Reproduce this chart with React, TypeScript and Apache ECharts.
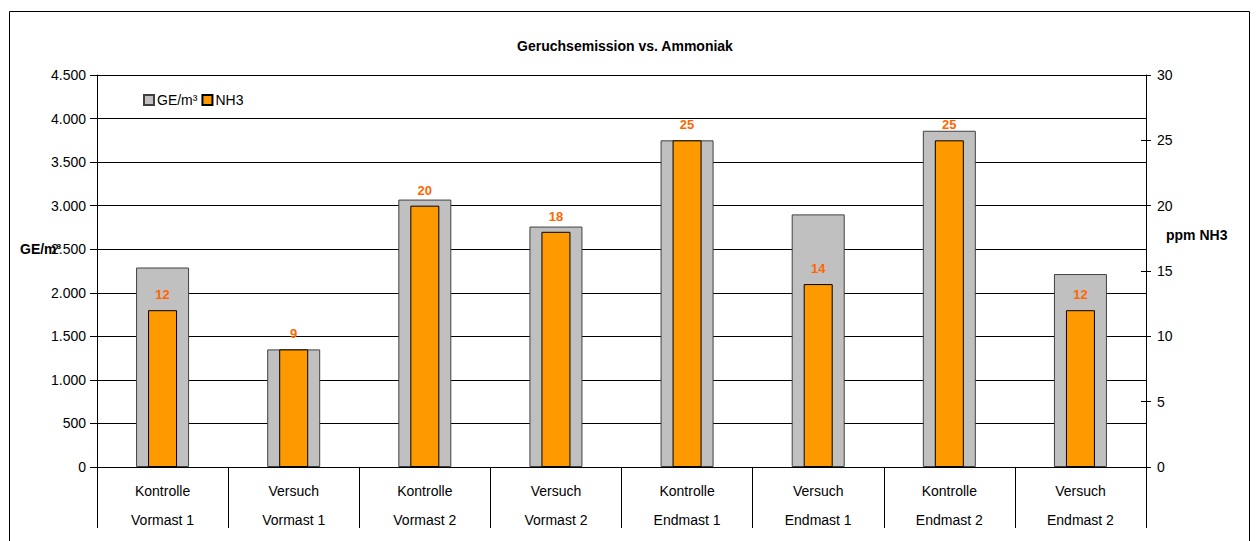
import React, { useEffect, useRef } from "react";
import * as echarts from "echarts";

const categories = [
  "Kontrolle\nVormast 1",
  "Versuch\nVormast 1",
  "Kontrolle\nVormast 2",
  "Versuch\nVormast 2",
  "Kontrolle\nEndmast 1",
  "Versuch\nEndmast 1",
  "Kontrolle\nEndmast 2",
  "Versuch\nEndmast 2",
];
const geValues = [2290, 1350, 3070, 2760, 3750, 2900, 3860, 2215];
const nh3Values = [12, 9, 20, 18, 25, 14, 25, 12];
const seriesNames = ["GE/m³", "NH3"];
const titleText = "Geruchsemission vs. Ammoniak";
const leftAxisName = "GE/m³";
const rightAxisName = "ppm NH3";

const FONT = "'Liberation Sans', Arial, sans-serif";

function fmtThousands(v: number): string {
  return String(v).replace(/\B(?=(\d{3})+(?!\d))/g, ".");
}

export default function App() {
  const ref = useRef<HTMLDivElement>(null);
  useEffect(() => {
    if (!ref.current) return;
    const chart = echarts.init(ref.current, null, { renderer: "svg" });
    chart.setOption({
      animation: false,
      backgroundColor: "#ffffff",
      textStyle: { fontFamily: FONT, color: "#000" },
      title: {
        text: titleText,
        left: 620,
        textAlign: "center",
        top: 34,
        textStyle: { fontFamily: FONT, fontSize: 14, fontWeight: "bold", color: "#000" },
      },
      legend: {
        data: seriesNames,
        left: 138,
        top: 88,
        itemWidth: 10,
        itemHeight: 10,
        itemGap: 4,
        icon: "rect",
        textStyle: { fontFamily: FONT, fontSize: 14, color: "#000", padding: [0, 0, 0, -2] },
      },
      graphic: [
        {
          type: "rect",
          shape: { x: 9.5, y: 11.5, width: 1240, height: 600 },
          style: { fill: "none", stroke: "#000", lineWidth: 1 },
          silent: true,
        },
        {
          type: "text",
          x: 20,
          y: 249,
          style: {
            text: leftAxisName,
            font: `bold 14px ${FONT}`,
            fill: "#000",
            textVerticalAlign: "middle",
          },
        },
        {
          type: "text",
          x: 1166,
          y: 235,
          style: {
            text: rightAxisName,
            font: `bold 14px ${FONT}`,
            fill: "#000",
            textVerticalAlign: "middle",
          },
        },
      ],
      grid: { left: 97, right: 111, top: 75, bottom: 74, containLabel: false },
      xAxis: [
        {
          type: "category",
          data: categories,
          boundaryGap: true,
          axisLine: { show: true, lineStyle: { color: "#000", width: 1 } },
          axisTick: { show: true, length: 61, interval: 0, lineStyle: { color: "#000" } },
          axisLabel: {
            interval: 0,
            fontFamily: FONT,
            fontSize: 14,
            color: "#000",
            lineHeight: 29,
            margin: 9,
          },
          splitLine: { show: false },
        },
        {
          type: "category",
          data: categories,
          show: false,
        },
      ],
      yAxis: [
        {
          type: "value",
          position: "left",
          min: 0,
          max: 4500,
          interval: 500,
          axisLine: { show: true, lineStyle: { color: "#000" } },
          axisTick: { show: true, length: 7, lineStyle: { color: "#000" } },
          axisLabel: {
            fontFamily: FONT,
            fontSize: 14,
            color: "#000",
            margin: 11,
            formatter: (v: number) => fmtThousands(v),
          },
          splitLine: { show: true, lineStyle: { color: "#000", width: 1 } },
        },
        {
          type: "value",
          position: "right",
          min: 0,
          max: 30,
          interval: 5,
          axisLine: { show: true, lineStyle: { color: "#000" } },
          axisTick: { show: true, length: 5, lineStyle: { color: "#000" } },
          axisLabel: { fontFamily: FONT, fontSize: 14, color: "#000", margin: 11 },
          splitLine: { show: false },
        },
        {
          type: "value",
          position: "right",
          min: 0,
          max: 30,
          interval: 5,
          axisLine: { show: false },
          axisTick: { show: true, inside: true, length: 5, lineStyle: { color: "#000" } },
          axisLabel: { show: false },
          splitLine: { show: false },
        },
      ],
      series: [
        {
          name: seriesNames[0],
          type: "bar",
          xAxisIndex: 0,
          yAxisIndex: 0,
          barWidth: 53,
          data: geValues,
          itemStyle: { color: "#C0C0C0", borderColor: "#404040", borderWidth: 1 },
          z: 2,
        },
        {
          name: seriesNames[1],
          type: "bar",
          xAxisIndex: 1,
          yAxisIndex: 1,
          barWidth: 29,
          data: nh3Values,
          itemStyle: { color: "#FF9900", borderColor: "#000", borderWidth: 1 },
          label: {
            show: true,
            position: "top",
            distance: 9,
            color: "#FF6600",
            fontFamily: FONT,
            fontWeight: "bold",
            fontSize: 13,
          },
          z: 3,
        },
      ],
    });
    return () => chart.dispose();
  }, []);
  return (
    <div
      ref={ref}
      style={{ position: "fixed", left: 0, top: 0, width: 1257, height: 541 }}
    />
  );
}
